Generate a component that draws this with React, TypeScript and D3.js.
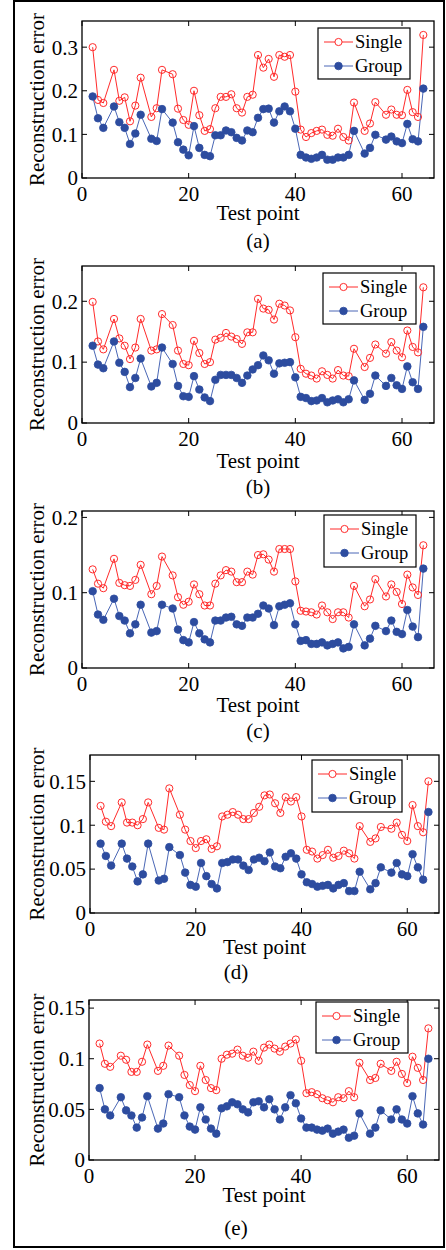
import React from "react";
import * as d3 from "d3";

const TEST_POINTS = [2,3,4,6,7,8,9,10,11,13,14,15,17,18,19,20,21,22,23,24,25,26,27,28,29,30,31,32,33,34,35,36,37,38,39,40,41,42,43,44,45,46,47,48,49,50,51,53,54,55,57,58,59,60,61,62,63,64];

const SINGLE_A = [0.300,0.179,0.172,0.248,0.177,0.185,0.130,0.166,0.230,0.140,0.160,0.248,0.238,0.159,0.133,0.122,0.200,0.144,0.108,0.112,0.160,0.186,0.186,0.192,0.160,0.150,0.186,0.191,0.282,0.253,0.273,0.232,0.282,0.278,0.282,0.198,0.111,0.094,0.103,0.108,0.111,0.099,0.097,0.113,0.094,0.086,0.173,0.108,0.125,0.174,0.145,0.157,0.145,0.144,0.202,0.151,0.140,0.328];
const GROUP_A = [0.187,0.137,0.115,0.164,0.128,0.115,0.078,0.102,0.145,0.090,0.085,0.158,0.127,0.082,0.065,0.052,0.119,0.069,0.053,0.050,0.098,0.098,0.109,0.105,0.092,0.086,0.109,0.105,0.138,0.158,0.159,0.127,0.153,0.164,0.153,0.113,0.053,0.047,0.044,0.047,0.053,0.042,0.042,0.047,0.047,0.053,0.108,0.056,0.069,0.099,0.088,0.095,0.084,0.080,0.124,0.089,0.084,0.205];

const SINGLE_B = [0.199,0.134,0.121,0.171,0.139,0.127,0.105,0.124,0.171,0.119,0.121,0.179,0.161,0.119,0.097,0.095,0.135,0.115,0.097,0.100,0.137,0.140,0.148,0.142,0.138,0.130,0.149,0.149,0.204,0.188,0.186,0.170,0.196,0.193,0.185,0.141,0.089,0.081,0.078,0.073,0.085,0.079,0.073,0.087,0.078,0.077,0.122,0.092,0.107,0.129,0.114,0.133,0.119,0.108,0.152,0.125,0.116,0.223];
const GROUP_B = [0.127,0.096,0.090,0.134,0.099,0.084,0.059,0.074,0.106,0.060,0.066,0.124,0.097,0.061,0.044,0.043,0.077,0.055,0.042,0.036,0.071,0.079,0.079,0.079,0.074,0.066,0.078,0.088,0.095,0.111,0.103,0.081,0.098,0.099,0.100,0.075,0.043,0.041,0.036,0.037,0.041,0.034,0.037,0.039,0.034,0.039,0.070,0.038,0.048,0.078,0.061,0.074,0.062,0.056,0.093,0.067,0.056,0.158];

const SINGLE_C = [0.131,0.112,0.106,0.145,0.113,0.110,0.109,0.117,0.137,0.098,0.109,0.148,0.123,0.094,0.084,0.088,0.111,0.098,0.083,0.083,0.112,0.123,0.130,0.128,0.114,0.114,0.128,0.124,0.150,0.151,0.144,0.128,0.158,0.158,0.158,0.115,0.076,0.075,0.074,0.071,0.083,0.074,0.065,0.074,0.074,0.067,0.109,0.082,0.091,0.118,0.095,0.111,0.101,0.085,0.124,0.107,0.097,0.163];
const GROUP_C = [0.102,0.071,0.064,0.092,0.069,0.063,0.046,0.058,0.084,0.047,0.049,0.084,0.079,0.051,0.037,0.034,0.061,0.046,0.038,0.034,0.063,0.063,0.067,0.068,0.058,0.056,0.067,0.067,0.072,0.083,0.079,0.057,0.082,0.084,0.086,0.058,0.036,0.037,0.032,0.032,0.034,0.030,0.032,0.034,0.026,0.028,0.058,0.030,0.039,0.056,0.049,0.063,0.048,0.045,0.077,0.055,0.041,0.132];

const SINGLE_D = [0.122,0.104,0.099,0.126,0.103,0.103,0.100,0.107,0.126,0.097,0.095,0.142,0.112,0.095,0.082,0.074,0.082,0.084,0.073,0.076,0.110,0.112,0.115,0.112,0.107,0.107,0.114,0.121,0.134,0.135,0.125,0.114,0.132,0.127,0.132,0.110,0.072,0.070,0.062,0.066,0.072,0.063,0.065,0.071,0.068,0.062,0.099,0.081,0.085,0.098,0.096,0.103,0.089,0.082,0.123,0.099,0.092,0.150];
const GROUP_D = [0.079,0.065,0.054,0.079,0.062,0.053,0.036,0.044,0.079,0.037,0.039,0.075,0.066,0.046,0.032,0.030,0.057,0.042,0.033,0.028,0.057,0.058,0.061,0.061,0.054,0.049,0.061,0.063,0.059,0.069,0.053,0.051,0.064,0.068,0.062,0.044,0.035,0.033,0.030,0.031,0.032,0.028,0.032,0.034,0.025,0.025,0.047,0.027,0.034,0.052,0.046,0.057,0.044,0.042,0.067,0.052,0.038,0.115];

const SINGLE_E = [0.115,0.095,0.092,0.103,0.099,0.087,0.087,0.097,0.114,0.088,0.093,0.113,0.103,0.084,0.074,0.068,0.093,0.079,0.071,0.069,0.100,0.104,0.105,0.109,0.103,0.101,0.107,0.098,0.111,0.114,0.110,0.107,0.112,0.115,0.119,0.098,0.066,0.067,0.065,0.061,0.059,0.057,0.062,0.061,0.068,0.062,0.096,0.079,0.081,0.095,0.088,0.097,0.085,0.076,0.102,0.091,0.079,0.130];
const GROUP_E = [0.071,0.050,0.044,0.062,0.049,0.044,0.032,0.042,0.063,0.031,0.036,0.065,0.062,0.044,0.033,0.030,0.052,0.040,0.031,0.026,0.051,0.053,0.057,0.055,0.050,0.047,0.057,0.058,0.052,0.060,0.050,0.040,0.052,0.064,0.056,0.041,0.032,0.032,0.030,0.029,0.031,0.026,0.028,0.030,0.022,0.024,0.046,0.026,0.032,0.049,0.040,0.050,0.040,0.036,0.063,0.046,0.035,0.100];

const X_TICKS = [0, 20, 40, 60];
const X_DOMAIN = [0, 66];
const Y_TICKS_A = [0, 0.1, 0.2, 0.3];
const Y_TICKS_B = [0, 0.1, 0.2];
const Y_TICKS_C = [0, 0.1, 0.2];
const Y_TICKS_D = [0, 0.05, 0.1, 0.15];
const Y_TICKS_E = [0, 0.05, 0.1, 0.15];
const Y_MAX = [0.36, 0.258, 0.2085, 0.18, 0.158];
const CAPTIONS = ["(a)", "(b)", "(c)", "(d)", "(e)"];
const SERIES_NAMES = ["Single", "Group"];
const X_LABEL = "Test point";
const Y_LABEL = "Reconstruction error";

const RED = "#ff2b2b";
const BLUE_LINE = "#4a67b6";
const BLUE_MARK = "#2d4c9f";
const FONT = "'Liberation Serif', 'Times New Roman', serif";

type Layout = {
  left: number; right: number; top: number; bottom: number;
  legend: { x: number; y: number; w: number; h: number };
  xlabY: number; capY: number; capX: number;
};

const LAYOUTS: Layout[] = [
  { left: 82, right: 434, top: 21, bottom: 178, legend: { x: 318, y: 28, w: 92, h: 51 }, xlabY: 213, capY: 241, capX: 258 },
  { left: 82, right: 434, top: 266, bottom: 423, legend: { x: 323, y: 273, w: 93, h: 51 }, xlabY: 461, capY: 487, capX: 258 },
  { left: 82, right: 434, top: 511, bottom: 668, legend: { x: 324, y: 515, w: 92, h: 52 }, xlabY: 705, capY: 731, capX: 258 },
  { left: 90, right: 439, top: 755, bottom: 913, legend: { x: 312, y: 760, w: 90, h: 52 }, xlabY: 947, capY: 972, capX: 236 },
  { left: 89, right: 439, top: 1000, bottom: 1160, legend: { x: 316, y: 1002, w: 92, h: 51 }, xlabY: 1195, capY: 1228, capX: 236 },
];

const PANELS = [
  { single: SINGLE_A, group: GROUP_A, yTicks: Y_TICKS_A },
  { single: SINGLE_B, group: GROUP_B, yTicks: Y_TICKS_B },
  { single: SINGLE_C, group: GROUP_C, yTicks: Y_TICKS_C },
  { single: SINGLE_D, group: GROUP_D, yTicks: Y_TICKS_D },
  { single: SINGLE_E, group: GROUP_E, yTicks: Y_TICKS_E },
];

function Panel({ idx }: { idx: number }) {
  const L = LAYOUTS[idx];
  const P = PANELS[idx];
  const x = d3.scaleLinear().domain(X_DOMAIN).range([L.left, L.right]);
  const y = d3.scaleLinear().domain([0, Y_MAX[idx]]).range([L.bottom, L.top]);
  const line = d3.line<number>().x((_, i) => x(TEST_POINTS[i])).y((v) => y(v));
  const tl = 5;
  const fs = 21;
  const cx = (L.left + L.right) / 2;
  const cy = (L.top + L.bottom) / 2;
  const lg = L.legend;
  const row1 = lg.y + 14;
  const row2 = lg.y + 38;
  const lx1 = lg.x + 6;
  const lx2 = lg.x + 35;
  const lmx = (lx1 + lx2) / 2;
  return (
    <g>
      {/* data */}
      <path d={line(P.single) || ""} fill="none" stroke={RED} strokeWidth={1} />
      <path d={line(P.group) || ""} fill="none" stroke={BLUE_LINE} strokeWidth={1} />
      {P.single.map((v, i) => (
        <circle key={"s" + i} cx={x(TEST_POINTS[i])} cy={y(v)} r={3.6} fill="none" stroke={RED} strokeWidth={1} />
      ))}
      {P.group.map((v, i) => (
        <circle key={"g" + i} cx={x(TEST_POINTS[i])} cy={y(v)} r={3.8} fill={BLUE_MARK} stroke={BLUE_MARK} strokeWidth={0.8} />
      ))}
      {/* box */}
      <rect x={L.left} y={L.top} width={L.right - L.left} height={L.bottom - L.top} fill="none" stroke="#000" strokeWidth={1.3} />
      {/* x ticks */}
      {X_TICKS.map((t) => (
        <g key={"xt" + t}>
          <line x1={x(t)} x2={x(t)} y1={L.bottom} y2={L.bottom - tl} stroke="#000" strokeWidth={1} />
          <line x1={x(t)} x2={x(t)} y1={L.top} y2={L.top + tl} stroke="#000" strokeWidth={1} />
          <text x={x(t)} y={L.bottom + 23} textAnchor="middle" fontSize={fs} fontFamily={FONT}>{String(t)}</text>
        </g>
      ))}
      {P.yTicks.map((t) => (
        <g key={"yt" + t}>
          <line x1={L.left} x2={L.left + tl} y1={y(t)} y2={y(t)} stroke="#000" strokeWidth={1} />
          <line x1={L.right} x2={L.right - tl} y1={y(t)} y2={y(t)} stroke="#000" strokeWidth={1} />
          <text x={L.left - 4} y={y(t)} dy="0.35em" textAnchor="end" fontSize={fs} fontFamily={FONT}>{String(t)}</text>
        </g>
      ))}
      {/* labels */}
      <text x={cx} y={L.xlabY} dy="0.35em" textAnchor="middle" fontSize={fs} fontFamily={FONT}>{X_LABEL}</text>
      <text transform={`translate(37,${cy}) rotate(-90)`} dy="0.35em" textAnchor="middle" fontSize={fs} fontFamily={FONT}>{Y_LABEL}</text>
      <text x={L.capX} y={L.capY} dy="0.35em" textAnchor="middle" fontSize={fs} fontFamily={FONT}>{CAPTIONS[idx]}</text>
      {/* legend */}
      <rect x={lg.x} y={lg.y} width={lg.w} height={lg.h} fill="#fff" stroke="#000" strokeWidth={1.2} />
      <line x1={lx1} x2={lx2} y1={row1} y2={row1} stroke={RED} strokeWidth={1} />
      <circle cx={lmx} cy={row1} r={3.6} fill="#fff" stroke={RED} strokeWidth={1} />
      <text x={lx2 + 2} y={row1} dy="0.35em" fontSize={18.5} fontFamily={FONT}>{SERIES_NAMES[0]}</text>
      <line x1={lx1} x2={lx2} y1={row2} y2={row2} stroke={BLUE_LINE} strokeWidth={1} />
      <circle cx={lmx} cy={row2} r={3.8} fill={BLUE_MARK} stroke={BLUE_MARK} strokeWidth={0.8} />
      <text x={lx2 + 2} y={row2} dy="0.35em" fontSize={18.5} fontFamily={FONT}>{SERIES_NAMES[1]}</text>
    </g>
  );
}

export default function App() {
  return (
    <svg width={446} height={1250} style={{ position: "absolute", left: 0, top: 0, background: "#fff" }}>
      <rect x={0} y={0} width={446} height={1250} fill="#fff" />
      <rect x={14} y={1} width={430} height={1246} fill="none" stroke="#000" strokeWidth={2} />
      {PANELS.map((_, i) => (
        <Panel key={i} idx={i} />
      ))}
    </svg>
  );
}
